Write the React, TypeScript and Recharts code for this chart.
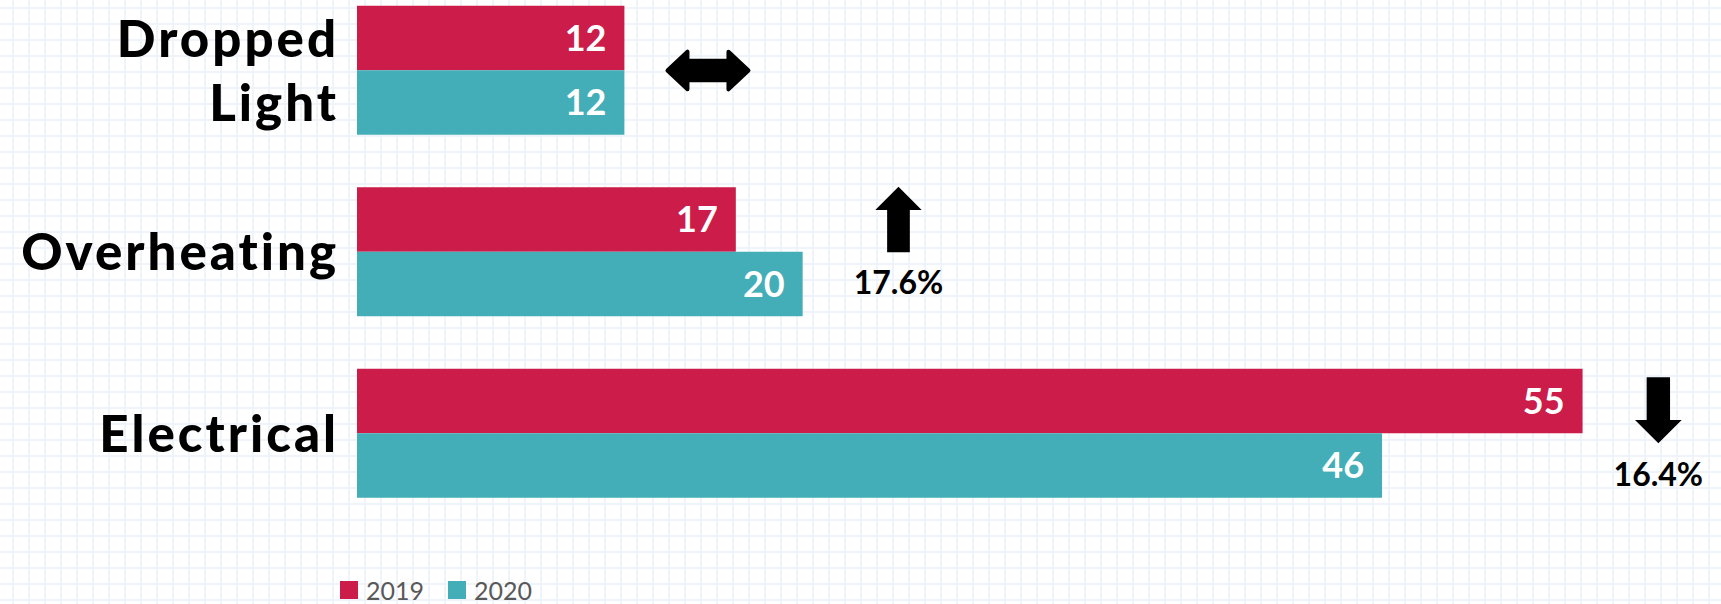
import React from 'react';
import { BarChart, Bar, XAxis, YAxis, LabelList, Legend, ReferenceDot } from 'recharts';

const categories = ['Dropped Light', 'Overheating', 'Electrical'];
const values2019 = [12, 17, 55];
const values2020 = [12, 20, 46];
const changeDirections = ['flat', 'up', 'down'];
const changeLabels = ['', '17.6%', '16.4%'];
const changeMarkerX = [15.75, 24.3, 58.4];
const seriesNames = ['2019', '2020'];
const seriesColors = ['#CB1C4A', '#43AEB8'];

const data = categories.map((name, i) => ({
  name,
  v2019: values2019[i],
  v2020: values2020[i],
}));

const FONT = 'Lato, "Open Sans", sans-serif';

const CategoryTick = (props: any) => {
  const { x, y, payload } = props;
  const words = String(payload.value).split(' ');
  const lines = payload.value === 'Dropped Light' ? words : [payload.value];
  const lh = 64;
  const start = -((lines.length - 1) * lh) / 2;
  const tx = x + 3;
  return (
    <text x={tx} y={y} textAnchor="end" fontFamily={FONT} fontWeight={900} fontSize={51} letterSpacing={3} fill="#000">
      {lines.map((l: string, i: number) => (
        <tspan key={i} x={tx} y={y + start + i * lh} dy={18}>
          {l}
        </tspan>
      ))}
    </text>
  );
};

const makeMarker = (dir: string, label: string) => (props: any) => {
  const { cx, cy } = props;
  if (dir === 'flat') {
    const pts = [
      [-40.5, 0], [-20.5, -18.8], [-20.5, -9.7], [20.5, -9.7], [20.5, -18.8],
      [40.5, 0], [20.5, 18.8], [20.5, 9.7], [-20.5, 9.7], [-20.5, 18.8],
    ].map(([a, b]) => `${cx + a},${cy + b}`).join(' ');
    return <polygon points={pts} fill="#000" stroke="#000" strokeWidth={4} strokeLinejoin="round" />;
  }
  if (dir === 'up') {
    const pts = [
      [0, -65.3], [23.2, -42], [11.35, -42], [11.35, 0.3], [-11.35, 0.3], [-11.35, -42], [-23.2, -42],
    ].map(([a, b]) => `${cx + a},${cy + b}`).join(' ');
    return (
      <g>
        <polygon points={pts} fill="#000" />
        <text x={cx} y={cy + 41.5} textAnchor="middle" fontFamily={FONT} fontWeight={700} fontSize={32} fill="#000">
          {label}
        </text>
      </g>
    );
  }
  const pts = [
    [-11.7, -56.2], [11.7, -56.2], [11.7, -13.5], [23.35, -13.5], [0, 9.8], [-23.35, -13.5], [-11.7, -13.5],
  ].map(([a, b]) => `${cx + a},${cy + b}`).join(' ');
  return (
    <g>
      <polygon points={pts} fill="#000" />
      <text x={cx} y={cy + 52} textAnchor="middle" fontFamily={FONT} fontWeight={700} fontSize={32} fill="#000">
        {label}
      </text>
    </g>
  );
};

const LegendContent = () => (
  <div style={{ display: 'flex', alignItems: 'center', fontFamily: FONT, fontSize: 25, lineHeight: '22px', color: '#595959' }}>
    {seriesNames.map((n, i) => (
      <div key={n} style={{ display: 'flex', alignItems: 'center', marginRight: 24 }}>
        <div style={{ width: 18, height: 18, background: seriesColors[i], marginRight: 8 }} />
        <span>{n}</span>
      </div>
    ))}
  </div>
);

export default function App() {
  return (
    <div
      style={{
        position: 'absolute',
        left: 0,
        top: 0,
        width: 1721,
        height: 604,
        background: '#fff',
        backgroundImage:
          'linear-gradient(to right, #eff4fb 2px, transparent 2px), linear-gradient(to bottom, #eff4fb 2px, transparent 2px)',
        backgroundSize: '16px 16px',
        backgroundPosition: '12px 7px',
        overflow: 'hidden',
      }}
    >
      <BarChart
        width={1721}
        height={604}
        data={data}
        layout="vertical"
        margin={{ top: -20.25, right: 27, left: 0, bottom: 79.75 }}
        barGap={0}
        barSize={64.5}
      >
        <XAxis type="number" domain={[0, 60]} hide />
        <YAxis
          type="category"
          dataKey="name"
          width={357}
          axisLine={false}
          tickLine={false}
          tickSize={0}
          tickMargin={21}
          tick={<CategoryTick />}
          interval={0}
        />
        <Bar dataKey="v2019" name={seriesNames[0]} fill={seriesColors[0]} isAnimationActive={false}>
          <LabelList dataKey="v2019" position="insideRight" offset={18} fill="#fff" fontFamily={FONT} fontWeight={700} fontSize={36} />
        </Bar>
        <Bar dataKey="v2020" name={seriesNames[1]} fill={seriesColors[1]} isAnimationActive={false}>
          <LabelList dataKey="v2020" position="insideRight" offset={18} fill="#fff" fontFamily={FONT} fontWeight={700} fontSize={36} />
        </Bar>
        {categories.map((c, i) => (
          <ReferenceDot
            key={c}
            x={changeMarkerX[i]}
            y={c}
            r={0}
            ifOverflow="visible"
            shape={makeMarker(changeDirections[i], changeLabels[i])}
          />
        ))}
        <Legend
          layout="horizontal"
          verticalAlign="middle"
          align="center"
          content={<LegendContent />}
          wrapperStyle={{ top: 579, left: 340, width: 'auto', height: 22 }}
        />
      </BarChart>
    </div>
  );
}
